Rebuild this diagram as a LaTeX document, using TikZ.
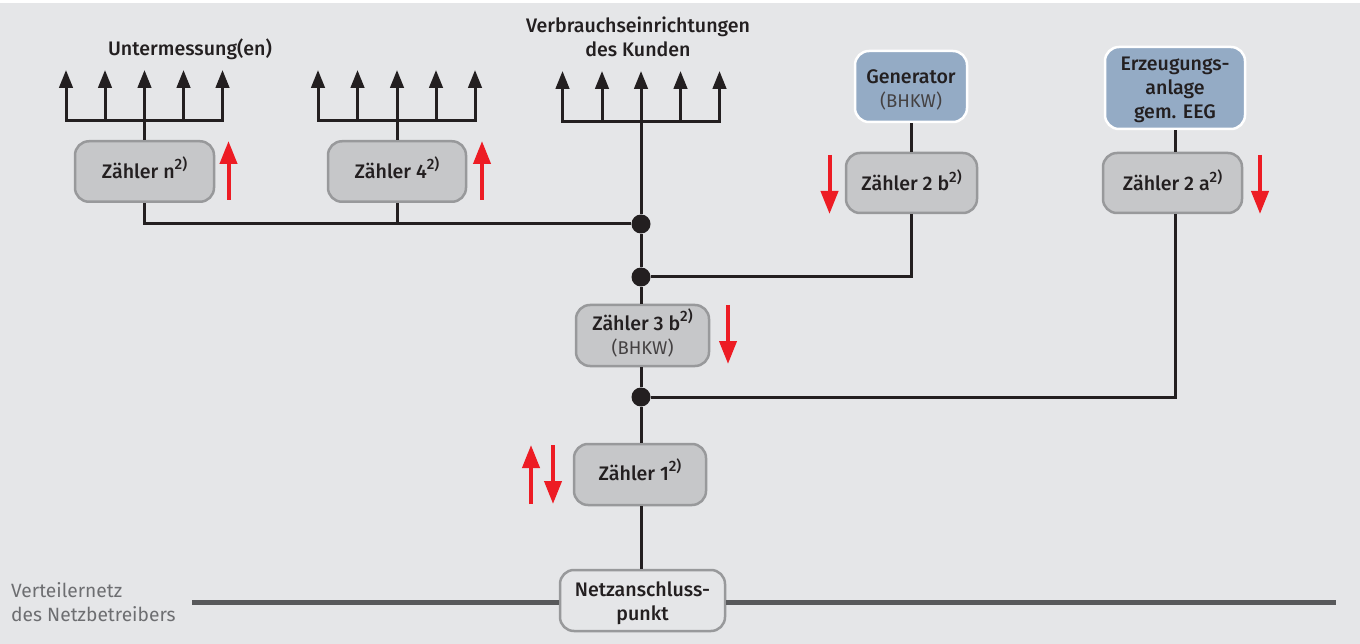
\documentclass[tikz,border=0pt]{standalone}
\usepackage{fontspec}
\setmainfont{Fira Sans}
\newfontfamily\medfont{Fira Sans Medium}
\usetikzlibrary{arrows.meta}
\definecolor{bgc}{HTML}{E5E6E8}
\definecolor{ink}{HTML}{231F20}
\definecolor{boxc}{HTML}{C6C7C9}
\definecolor{edgec}{HTML}{98999B}
\definecolor{bluec}{HTML}{94ABC5}
\definecolor{redc}{HTML}{ED1C24}
\definecolor{gridc}{HTML}{58595B}
\definecolor{notec}{HTML}{6D6E71}
\newcommand\hochz{\smash{\raisebox{0.42em}{\fontsize{15}{15}\selectfont 2)}}}
\newcommand\lite[1]{{\fontsize{18.5}{24}\selectfont\normalfont\color{ink!85}#1}}
\newcommand\tophold[1]{\rule{0pt}{#1pt}}
\newcommand\lowhold[1]{\rule[-#1pt]{0pt}{#1pt}}
\tikzset{
  x=1pt,y=-1pt,
  base/.style={rounded corners=14pt,align=center,inner sep=0pt,text=ink,
    font=\fontsize{19.6}{24}\selectfont\medfont},
  meter/.style={base,draw=edgec,fill=boxc,line width=2.5pt},
  source/.style={base,draw=white,fill=bluec,line width=2.5pt},
  plainbox/.style={base,draw=edgec,fill=bgc,line width=2.5pt},
  wire/.style={draw=ink,line width=3pt},
  forkwire/.style={draw=ink,line width=3pt,line cap=rect},
  forkarrow/.style={draw=ink,line width=3pt,-{Triangle[length=18pt,width=13.5pt]}},
  redarrow/.style={draw=redc,line width=4pt,-{Triangle[length=23pt,width=17pt]}},
  dot/.style={circle,fill=ink,inner sep=0pt,minimum size=19pt},
  title/.style={align=center,inner sep=0pt,text=ink,font=\fontsize{19.6}{24}\selectfont\medfont},
  note/.style={align=left,inner sep=0pt,text=notec,font=\fontsize{19.2}{24}\selectfont},
  gridline/.style={draw=gridc,line width=5pt}
}
\begin{document}
\begin{tikzpicture}
\useasboundingbox (0,0) rectangle (1360,644);
\fill[white] (0,0) rectangle (1360,644);
\fill[bgc] (0,3) rectangle (1360,644);

% junctions
\node[dot] (d1) at (641,224) {};
\node[dot] (d2) at (641,277) {};
\node[dot] (d3) at (641,397) {};

% meters and sources
\node[meter,minimum width=139pt,minimum height=60.5pt] (zn) at (144.5,171.5) {Zähler n\hochz\lowhold{2}};
\node[meter,minimum width=138pt,minimum height=60.5pt] (z4) at (397,171.5) {Zähler 4\hochz\lowhold{2}};
\node[meter,minimum width=131pt,minimum height=60pt] (zb) at (911.5,183) {Zähler 2 b\hochz};
\node[meter,minimum width=139pt,minimum height=60pt] (za) at (1172.5,183) {Zähler 2 a\hochz};
\node[meter,minimum width=133pt,minimum height=61pt] (z3) at (642.5,335.5) {\tophold{16}Zähler 3 b\hochz\\\lite{(BHKW)}};
\node[meter,minimum width=132pt,minimum height=61pt] (z1) at (640,474.5) {Zähler 1\hochz\lowhold{4}};
\node[source,minimum width=112pt,minimum height=71pt] (gen) at (911,86.5) {\tophold{20}Generator\\\lite{(BHKW)}};
\node[source,minimum width=140pt,minimum height=82pt] (eeg) at (1175,88) {\tophold{18}Erzeugungs-\\anlage\\gem. EEG};
\node[plainbox,minimum width=165pt,minimum height=61pt] (nap) at (642.5,600.5) {\tophold{20}Netzanschluss-\\punkt};

% labels
\node[title] (t1) at (190,49) {Untermessung(en)};
\node[title] (t2) at (638,37) {Verbrauchseinrichtungen\\des Kunden};
\node[note,anchor=west] (t3) at (11,602) {Verteilernetz\\des Netzbetreibers};

% grid line
\coordinate (gl) at (192,602);
\coordinate (gr) at (1336,602);
\draw[gridline] (gl) -- (nap.west |- gl);
\draw[gridline] (nap.east |- gr) -- (gr);

% main connectors
\draw[wire] (d1) -- (d2);
\draw[wire] (d2) -- (d2 |- z3.north);
\draw[wire] (d3 |- z3.south) -- (d3);
\draw[wire] (d3) -- (d3 |- z1.north);
\draw[wire] (d3 |- z1.south) -- (d3 |- nap.north);
\draw[wire] (d1) -- (zn.south |- d1) -- (zn.south);
\draw[wire] (z4.south) -- (z4.south |- d1);
\draw[wire] (d2) -- (gen.south |- d2) -- (gen.south |- zb.south);
\draw[wire] (gen.south) -- (gen.south |- zb.north);
\draw[wire] (d3) -- (eeg.south |- d3) -- (eeg.south |- za.south);
\draw[wire] (eeg.south) -- (eeg.south |- za.north);

% forks
\foreach \nm/\xa/\xb/\xc/\xd/\xe/\yb/\yt in {
  fa/66/105/144.5/183.5/222.5/121/70,
  fb/318/357.5/397/436/475/121/70,
  fc/562.5/602/641/680.5/719.5/121.5/71}{
  \coordinate (\nm-l) at (\xa,\yb);
  \coordinate (\nm-r) at (\xe,\yb);
  \coordinate (\nm-m) at (\xc,\yb);
  \draw[forkwire] (\nm-l) -- (\nm-r);
  \foreach \xx in {\xa,\xb,\xc,\xd,\xe}{
    \coordinate (\nm-b) at (\xx,\yb);
    \coordinate (\nm-t) at (\xx,\yt);
    \draw[forkarrow] (\nm-b) -- (\nm-t);
  }
}
\draw[wire] (zn.north) -- (fa-m);
\draw[wire] (z4.north) -- (fb-m);
\draw[wire] (d1) -- (fc-m);

% flow direction arrows
\coordinate (ra1) at (228.5,200); \coordinate (ra2) at (228.5,141);
\coordinate (rb1) at (482,200);   \coordinate (rb2) at (482,141);
\coordinate (rc1) at (829.5,155); \coordinate (rc2) at (829.5,214);
\coordinate (rd1) at (1260,155);  \coordinate (rd2) at (1260,214);
\coordinate (re1) at (728,305);   \coordinate (re2) at (728,364);
\coordinate (rf1) at (531,504);   \coordinate (rf2) at (531,445);
\coordinate (rg1) at (553,445);   \coordinate (rg2) at (553,504);
\foreach \r in {a,b,c,d,e,f,g}{\draw[redarrow] (r\r1) -- (r\r2);}
\end{tikzpicture}
\end{document}
